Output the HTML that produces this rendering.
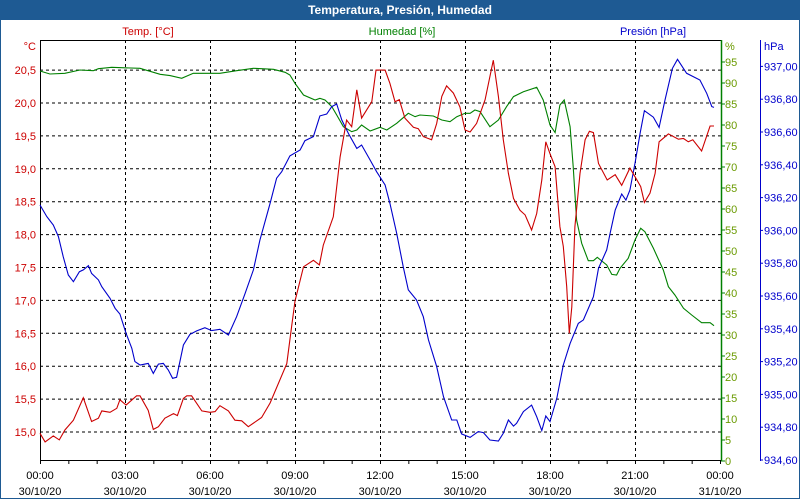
<!DOCTYPE html>
<html><head><meta charset="utf-8"><style>
body{margin:0;width:800px;height:500px;overflow:hidden;background:#fff;font-family:"Liberation Sans",sans-serif}
#title{position:absolute;left:0;top:0;width:800px;height:20px;background:#1e5a93;color:#fff;font-weight:bold;font-size:12px;text-align:center;line-height:20px}
#frame{position:absolute;left:0;top:20px;width:798px;height:478px;border:1px solid #1e5a93;border-top:none}
svg{position:absolute;left:0;top:0}
text{font-family:"Liberation Sans",sans-serif;font-size:11px}
</style></head><body>
<div id="title">Temperatura, Presión, Humedad</div>
<div id="frame"></div>
<svg id="chart" width="800" height="500"></svg>
<script>
const tempT=[0,0.18,0.47,0.68,0.88,1.18,1.53,1.82,2.06,2.18,2.47,2.71,2.82,3.04,3.41,3.53,3.82,4.0,4.18,4.41,4.71,4.85,5.06,5.18,5.35,5.71,6.0,6.18,6.35,6.65,6.88,7.12,7.35,7.82,8.12,8.71,8.88,9.0,9.30,9.65,9.86,10.0,10.35,10.59,10.82,11.0,11.18,11.35,11.71,11.86,12.18,12.35,12.53,12.68,12.88,13.18,13.35,13.53,13.82,14.0,14.18,14.35,14.59,14.82,15.0,15.18,15.41,15.71,16.0,16.18,16.35,16.53,16.71,16.94,17.12,17.35,17.53,17.71,17.85,18.0,18.18,18.35,18.47,18.59,18.68,18.77,18.88,19.06,19.24,19.39,19.53,19.71,20.02,20.30,20.53,20.82,21.0,21.20,21.33,21.53,21.71,21.85,22.18,22.53,22.71,22.88,23.04,23.35,23.65,23.79];
const tempV=[14.98,14.85,14.94,14.88,15.03,15.18,15.52,15.16,15.21,15.32,15.30,15.36,15.49,15.41,15.55,15.55,15.33,15.04,15.08,15.21,15.28,15.25,15.51,15.55,15.55,15.32,15.30,15.31,15.40,15.32,15.18,15.17,15.08,15.22,15.44,16.04,16.60,16.99,17.51,17.61,17.54,17.84,18.27,19.18,19.74,19.64,20.20,19.77,20.02,20.50,20.50,20.30,20.02,20.05,19.77,19.63,19.61,19.49,19.44,19.69,20.10,20.26,20.15,19.94,19.59,19.56,19.69,20.05,20.65,20.10,19.44,18.93,18.55,18.37,18.30,18.07,18.32,18.83,19.41,19.23,19.03,18.12,17.82,17.21,16.50,16.90,18.12,18.93,19.44,19.57,19.55,19.08,18.83,18.91,18.75,19.01,18.88,18.73,18.49,18.63,18.93,19.41,19.53,19.45,19.46,19.41,19.44,19.27,19.65,19.65];
const humT=[0,0.35,0.88,1.41,1.88,2.06,2.53,2.88,3.53,4.24,4.59,5.0,5.41,6.35,6.94,7.53,8.24,8.65,8.82,9.0,9.30,9.71,9.88,10.06,10.30,10.47,10.71,11.0,11.18,11.35,11.65,12.0,12.24,12.59,13.0,13.24,13.41,13.88,14.18,14.47,14.71,15.0,15.18,15.35,15.53,15.88,16.18,16.47,16.71,17.06,17.53,17.76,18.0,18.18,18.35,18.50,18.71,18.82,18.94,19.12,19.35,19.53,19.67,20.0,20.18,20.35,20.47,20.76,21.0,21.20,21.35,21.65,22.0,22.18,22.41,22.71,23.0,23.35,23.65,23.79];
const humV=[92.86,92.14,92.30,93.10,92.94,93.41,93.73,93.65,93.49,92.07,91.75,91.11,92.30,92.30,92.94,93.49,93.26,92.54,91.91,89.92,87.14,85.95,86.35,85.95,84.37,82.38,79.60,78.41,78.81,80.0,78.57,79.45,78.81,80.40,82.78,81.98,82.38,82.14,81.19,80.79,81.98,82.78,82.78,83.57,83.18,79.60,81.19,84.37,86.75,87.94,88.97,85.95,80.0,78.18,84.76,85.95,79.60,70.08,57.38,51.83,47.70,47.70,48.49,46.67,44.44,44.29,45.87,48.26,52.62,55.40,54.60,50.64,45.48,41.51,39.52,36.35,34.76,32.94,32.94,32.22];
const presT=[0,0.24,0.47,0.65,0.82,1.0,1.18,1.39,1.53,1.71,1.82,2.06,2.18,2.47,2.65,2.82,3.04,3.24,3.35,3.53,3.82,4.0,4.18,4.35,4.53,4.68,4.82,5.06,5.29,5.53,5.82,6.06,6.35,6.65,6.94,7.24,7.53,7.76,8.12,8.35,8.53,8.82,9.18,9.35,9.65,9.88,10.12,10.30,10.47,10.65,10.88,11.18,11.35,11.65,11.88,12.18,12.35,12.59,12.82,13.0,13.29,13.53,13.71,14.0,14.24,14.53,14.71,14.88,15.18,15.47,15.65,15.88,16.18,16.35,16.53,16.71,16.82,17.06,17.35,17.53,17.71,17.85,18.0,18.24,18.47,18.71,19.0,19.18,19.53,19.71,20.0,20.12,20.30,20.53,20.68,20.82,21.0,21.18,21.33,21.65,21.85,22.06,22.32,22.50,22.82,23.29,23.53,23.71,23.79];
const presV=[936.155,936.084,936.033,935.962,935.840,935.728,935.687,935.748,935.759,935.785,935.738,935.698,935.657,935.586,935.525,935.490,935.372,935.281,935.200,935.179,935.189,935.128,935.185,935.189,935.149,935.098,935.104,935.301,935.366,935.387,935.407,935.389,935.397,935.362,935.474,935.616,935.759,935.941,936.165,936.318,936.358,936.454,936.490,936.547,936.572,936.698,936.710,936.755,936.771,936.673,936.592,936.500,936.521,936.429,936.358,936.277,936.165,935.982,935.779,935.637,935.576,935.474,935.332,935.169,934.986,934.844,934.844,934.759,934.738,934.773,934.767,934.722,934.716,934.763,934.844,934.807,934.824,934.895,934.935,934.864,934.779,934.868,934.834,934.976,935.179,935.311,935.433,935.454,935.596,935.769,935.881,935.982,936.124,936.222,936.185,936.246,936.409,936.592,936.730,936.690,936.628,936.795,936.988,937.043,936.958,936.917,936.836,936.755,936.750];
const xTickHours=[0,3,6,9,12,15,18,21,24];
const xTickTimes=["00:00","03:00","06:00","09:00","12:00","15:00","18:00","21:00","00:00"];
const xTickDates=["30/10/20","30/10/20","30/10/20","30/10/20","30/10/20","30/10/20","30/10/20","30/10/20","31/10/20"];
const tempTicks=[15.0,15.5,16.0,16.5,17.0,17.5,18.0,18.5,19.0,19.5,20.0,20.5];
const humTicks=[0,5,10,15,20,25,30,35,40,45,50,55,60,65,70,75,80,85,90,95];
const presTicks=[934.6,934.8,935.0,935.2,935.4,935.6,935.8,936.0,936.2,936.4,936.6,936.8,937.0];

const L=40,R=721,T=40,B=460;
const xS=h=>L+h*(720-L)/24;
const yT=v=>432-(v-15)*65.8;
const yH=v=>461-v*4.2;
const yP=v=>460-(v-934.6)*164;
const fmt=(v,d)=>v.toFixed(d).replace('.',',');
const svg=document.getElementById('chart');
const NS='http://www.w3.org/2000/svg';
function mk(tag,attrs,txt){const e=document.createElementNS(NS,tag);for(const k in attrs)e.setAttribute(k,attrs[k]);if(txt!==undefined)e.textContent=txt;svg.appendChild(e);return e;}

// grid
tempTicks.forEach(v=>{const g=mk('line',{x1:L,x2:R,y1:yT(v),y2:yT(v),stroke:'#000','stroke-dasharray':'3,3','stroke-width':1});

});
xTickHours.slice(1,-1).forEach(h=>{const g=mk('line',{x1:xS(h)+.5,x2:xS(h)+.5,y1:T,y2:B,stroke:'#000','stroke-dasharray':'3,3','stroke-width':1});

});
// axes
let a=mk('line',{x1:L+.5,x2:L+.5,y1:T,y2:B+.5,stroke:'#000'});


a=mk('line',{x1:L,x2:R,y1:T+.5,y2:T+.5,stroke:'#000'});


a=mk('line',{x1:L,x2:R,y1:B+.5,y2:B+.5,stroke:'#000'});


a=mk('line',{x1:R+.5,x2:R+.5,y1:T,y2:B+1,stroke:'#008000','stroke-width':1.5});


a=mk('line',{x1:760.5,x2:760.5,y1:T,y2:B+1,stroke:'#0000cc','stroke-width':1});



for(let h=0;h<=24;h++){const t=mk('line',{x1:xS(h)+.5,x2:xS(h)+.5,y1:B,y2:B+4,stroke:'#000'});

}
xTickHours.forEach((h,i)=>{
const a1=mk('text',{x:xS(h),y:479,'text-anchor':'middle',fill:'#000'},xTickTimes[i]);


const a2=mk('text',{x:xS(h),y:495,'text-anchor':'middle',fill:'#000'},xTickDates[i]);

});
tempTicks.forEach(v=>{const t=mk('text',{x:36,y:yT(v)+4,'text-anchor':'end',fill:'#cc0000'},fmt(v,1));

});
humTicks.forEach(v=>{const k=mk('line',{x1:R,x2:R+4,y1:yH(v),y2:yH(v),stroke:'#008000'});


const t=mk('text',{x:725,y:yH(v)+4,fill:'#6a9a00'},String(v));

});
presTicks.forEach(v=>{const k=mk('line',{x1:760,x2:763,y1:yP(v),y2:yP(v),stroke:'#0000cc'});


const t=mk('text',{x:764,y:yP(v)+4,fill:'#0000cc'},fmt(v,2));

});
let u=mk('text',{x:36,y:50,'text-anchor':'end',fill:'#cc0000'},'°C');


u=mk('text',{x:725,y:50,fill:'#6a9a00'},'%');


u=mk('text',{x:764,y:50,fill:'#0000cc'},'hPa');


u=mk('text',{x:148,y:35,'text-anchor':'middle',fill:'#cc0000'},'Temp. [°C]');


u=mk('text',{x:402,y:35,'text-anchor':'middle',fill:'#008000'},'Humedad [%]');


u=mk('text',{x:653,y:35,'text-anchor':'middle',fill:'#0000cc'},'Presión [hPa]');



function line(ts,vs,yf,color,name){
const d=ts.map((t,i)=>(i?'L':'M')+xS(t).toFixed(1)+','+yf(vs[i]).toFixed(1)).join('');
const p=mk('path',{d:d,fill:'none',stroke:color,'stroke-width':1.1});

}
line(humT,humV,yH,'#008000','humidity-line');
line(presT,presV,yP,'#0000cc','pressure-line');
line(tempT,tempV,yT,'#cc0000','temperature-line');
</script>
</body></html>
